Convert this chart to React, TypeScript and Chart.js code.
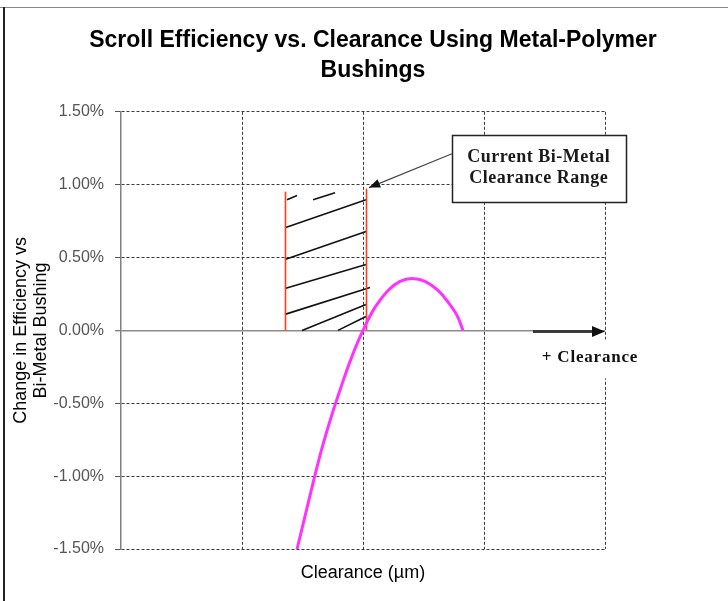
import React, { useEffect, useRef } from 'react';
import { Chart, registerables } from 'chart.js';

Chart.register(...registerables);

// ---- text ----
const titleLines = ['Scroll Efficiency vs. Clearance Using Metal-Polymer', 'Bushings'];
const yTitleLines = ['Change in Efficiency vs', 'Bi-Metal Bushing'];
const xTitle = 'Clearance (µm)';
const noteLines = ['Current Bi-Metal', 'Clearance Range'];
const clearanceLabel = '+ Clearance';

// ---- axes ----
const yMin = -1.5;
const yMax = 1.5;
const yStep = 0.5;
const xMin = 0;
const xMax = 4;

// ---- efficiency curve (x in grid units, y in %) ----
const curveX = [1.455, 1.521, 1.587, 1.661, 1.744, 1.826, 1.909, 2.0, 2.099, 2.207, 2.306, 2.405, 2.512, 2.62, 2.711, 2.777, 2.826];
const curveY = [-1.5, -1.274, -1.048, -0.808, -0.575, -0.37, -0.178, 0, 0.158, 0.274, 0.336, 0.356, 0.336, 0.274, 0.185, 0.103, 0];

// ---- current bi-metal clearance range (hatched) ----
const rangeX = [1.355, 2.025];
const rangeTop = [0.952, 0.973];
const hatchStartX = [1.372, 1.587, 1.355, 1.355, 1.355, 1.355, 1.496, 1.793];
const hatchStartY = [0.897, 0.897, 0.705, 0.486, 0.288, 0.11, 0, 0];
const hatchEndX = [1.455, 1.769, 2.025, 2.025, 2.025, 2.058, 2.025, 2.025];
const hatchEndY = [0.925, 0.945, 0.897, 0.678, 0.452, 0.295, 0.178, 0.096];

// ---- callout ----
const noteBoxX = [2.735, 4.17];
const noteBoxY = [1.342, 0.884];
const noteArrowFrom = [2.735, 1.212];
const noteArrowTo = [2.05, 0.98];

// ---- "+ Clearance" axis arrow ----
const axisArrowX = [3.405, 4.0];
const clearanceLabelPos = [3.876, -0.19];
const clearanceBoxX = [3.36, 4.5];
const clearanceBoxY = [-0.063, -0.329];

function arrowHead(ctx: CanvasRenderingContext2D, fx: number, fy: number, tx: number, ty: number, len: number, half: number) {
  const a = Math.atan2(ty - fy, tx - fx);
  const bx = tx - len * Math.cos(a);
  const by = ty - len * Math.sin(a);
  ctx.beginPath();
  ctx.moveTo(tx, ty);
  ctx.lineTo(bx + half * Math.sin(a), by - half * Math.cos(a));
  ctx.lineTo(bx - half * Math.sin(a), by + half * Math.cos(a));
  ctx.closePath();
  ctx.fill();
}

const annotations = {
  id: 'annotations',
  beforeDatasetsDraw(chart: any) {
    const { ctx, scales: { x, y } } = chart;
    ctx.save();
    ctx.strokeStyle = '#111';
    ctx.lineWidth = 1.6;
    hatchStartX.forEach((sx, i) => {
      ctx.beginPath();
      ctx.moveTo(x.getPixelForValue(sx), y.getPixelForValue(hatchStartY[i]));
      ctx.lineTo(x.getPixelForValue(hatchEndX[i]), y.getPixelForValue(hatchEndY[i]));
      ctx.stroke();
    });
    ctx.strokeStyle = '#ff3c1e';
    ctx.lineWidth = 1.6;
    rangeX.forEach((v, i) => {
      const px = Math.round(x.getPixelForValue(v)) + 0.5;
      ctx.beginPath();
      ctx.moveTo(px, y.getPixelForValue(0));
      ctx.lineTo(px, y.getPixelForValue(rangeTop[i]));
      ctx.stroke();
    });
    ctx.restore();
  },
  afterDatasetsDraw(chart: any) {
    const { ctx, scales: { x, y } } = chart;
    ctx.save();
    // label background
    const bx1 = x.getPixelForValue(clearanceBoxX[0]);
    const bx2 = x.getPixelForValue(clearanceBoxX[1]);
    const by1 = y.getPixelForValue(clearanceBoxY[0]);
    const by2 = y.getPixelForValue(clearanceBoxY[1]);
    ctx.fillStyle = '#fff';
    ctx.fillRect(bx1, by1, bx2 - bx1, by2 - by1);
    // axis arrow
    const ay = y.getPixelForValue(0) + 1;
    const ax1 = x.getPixelForValue(axisArrowX[0]);
    const ax2 = x.getPixelForValue(axisArrowX[1]);
    ctx.strokeStyle = '#3a3a3a';
    ctx.fillStyle = '#111';
    ctx.lineWidth = 3;
    ctx.beginPath();
    ctx.moveTo(ax1, ay);
    ctx.lineTo(ax2 - 8, ay);
    ctx.stroke();
    arrowHead(ctx, ax1, ay, ax2, ay, 13, 5.5);
    // label text
    ctx.fillStyle = '#111';
    ctx.font = 'bold 17px "Liberation Serif"';
    (ctx as any).letterSpacing = '0.8px';
    ctx.textAlign = 'center';
    ctx.textBaseline = 'middle';
    ctx.fillText(clearanceLabel, x.getPixelForValue(clearanceLabelPos[0]), y.getPixelForValue(clearanceLabelPos[1]));
    // callout arrow
    const fx = x.getPixelForValue(noteArrowFrom[0]);
    const fy = y.getPixelForValue(noteArrowFrom[1]);
    const tx = x.getPixelForValue(noteArrowTo[0]);
    const ty = y.getPixelForValue(noteArrowTo[1]);
    ctx.strokeStyle = '#444';
    ctx.lineWidth = 1.2;
    ctx.beginPath();
    ctx.moveTo(fx, fy);
    ctx.lineTo(tx, ty);
    ctx.stroke();
    ctx.fillStyle = '#111';
    arrowHead(ctx, fx, fy, tx, ty, 11, 4.5);
    // callout box
    const nx1 = x.getPixelForValue(noteBoxX[0]);
    const nx2 = x.getPixelForValue(noteBoxX[1]);
    const ny1 = y.getPixelForValue(noteBoxY[0]);
    const ny2 = y.getPixelForValue(noteBoxY[1]);
    ctx.fillStyle = '#fff';
    ctx.fillRect(nx1, ny1, nx2 - nx1, ny2 - ny1);
    ctx.strokeStyle = '#222';
    ctx.lineWidth = 1.5;
    ctx.strokeRect(Math.round(nx1) + 0.5, Math.round(ny1) + 0.5, Math.round(nx2 - nx1), Math.round(ny2 - ny1));
    ctx.fillStyle = '#1a1a1a';
    ctx.font = 'bold 18px "Liberation Serif"';
    (ctx as any).letterSpacing = '0.5px';
    const cx = (nx1 + nx2) / 2;
    const lh = (ny2 - ny1) / (noteLines.length + 1);
    noteLines.forEach((t, i) => ctx.fillText(t, cx, ny1 + lh * (i + 1) + (i === 0 ? 0 : -1)));
    ctx.restore();
  },
  afterDraw(chart: any) {
    const { ctx, width, height } = chart;
    ctx.save();
    ctx.strokeStyle = '#888';
    ctx.lineWidth = 1;
    ctx.beginPath();
    ctx.moveTo(0, 7.5);
    ctx.lineTo(width, 7.5);
    ctx.stroke();
    ctx.strokeStyle = '#222';
    ctx.lineWidth = 2;
    ctx.beginPath();
    ctx.moveTo(4, 7);
    ctx.lineTo(4, height);
    ctx.stroke();
    ctx.restore();
  },
};

export default function App() {
  const ref = useRef<HTMLCanvasElement>(null);
  useEffect(() => {
    if (!ref.current) return;
    Chart.defaults.font.family = '"Liberation Sans", Arial, sans-serif';
    const chart = new Chart(ref.current, {
      type: 'line',
      data: {
        datasets: [
          {
            label: 'Efficiency change',
            data: curveX.map((v, i) => ({ x: v, y: curveY[i] })),
            borderColor: '#ff33ff',
            borderWidth: 3,
            pointRadius: 0,
            fill: false,
            tension: 0.4,
          },
        ],
      },
      options: {
        animation: false,
        responsive: false,
        layout: { padding: { left: 0, top: 0, right: -18, bottom: 0 } },
        plugins: {
          legend: { display: false },
          tooltip: { enabled: false },
          title: {
            display: true,
            text: titleLines,
            color: '#000',
            font: { size: 23, weight: 'bold', lineHeight: 1.3 },
            padding: { top: 26, bottom: 26 },
          },
        },
        scales: {
          x: {
            type: 'linear',
            min: xMin,
            max: xMax,
            ticks: { display: false, stepSize: 1 },
            grid: {
              drawTicks: false,
              color: (c: any) => (c.tick && c.tick.value === xMin ? 'rgba(0,0,0,0)' : '#3a3a3a'),
              lineWidth: 1,
            },
            border: { display: false, dash: [3, 2] },
            title: {
              display: true,
              text: xTitle,
              color: '#000',
              font: { size: 18, lineHeight: 1.2 },
              padding: { top: 0, bottom: 17 },
            },
            afterFit: (s: any) => {
              s.height = 52;
            },
          },
          y: {
            min: yMin,
            max: yMax,
            ticks: {
              stepSize: yStep,
              color: '#555',
              font: { size: 16 },
              padding: 11,
              callback: (v: any) => Number(v).toFixed(2) + '%',
            },
            grid: {
              color: (c: any) => (c.tick && c.tick.value === 0 ? '#8c8c8c' : '#3a3a3a'),
              lineWidth: (c: any) => (c.tick && c.tick.value === 0 ? 1.5 : 1),
              tickLength: 6,
              tickColor: '#555',
              tickWidth: 1,
            },
            border: {
              display: true,
              color: '#808080',
              width: 1.5,
              dash: (c: any) => (c.tick && c.tick.value === 0 ? [] : [3, 2]),
            },
            title: {
              display: true,
              text: yTitleLines,
              color: '#000',
              font: { size: 18, lineHeight: 1.1 },
              padding: { top: 11, bottom: 0 },
            },
            afterFit: (s: any) => {
              s.width = 121;
            },
          },
          y2: {
            position: 'right',
            display: true,
            min: yMin,
            max: yMax,
            ticks: { display: false },
            grid: { display: false, drawTicks: false },
            border: { display: false },
            afterFit: (s: any) => {
              s.width = 141;
            },
          },
        },
      },
      plugins: [annotations],
    } as any);
    return () => chart.destroy();
  }, []);
  return (
    <div style={{ position: 'fixed', left: 0, top: 0, width: 728, height: 601, background: '#fff' }}>
      <canvas ref={ref} width={728} height={601} style={{ display: 'block', width: 728, height: 601 }} />
    </div>
  );
}
